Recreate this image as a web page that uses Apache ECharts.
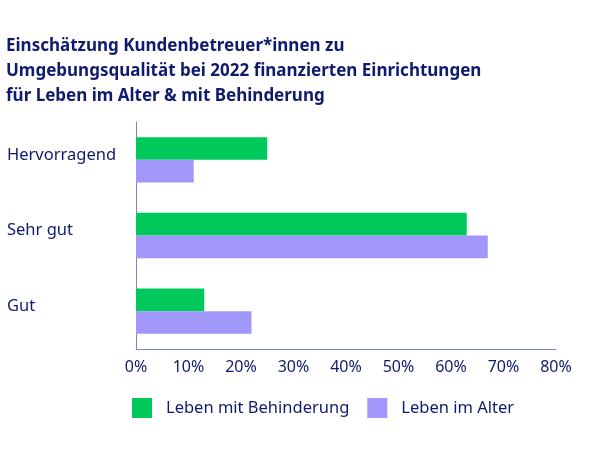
<!DOCTYPE html>
<html>
<head>
<meta charset="utf-8">
<script src="https://cdn.jsdelivr.net/npm/echarts@6/dist/echarts.min.js"></script>
<style>
  html, body { margin: 0; padding: 0; background: #fff; }
  #chart { width: 599px; height: 449px; }
</style>
</head>
<body>
<div id="chart"></div>
<script>
// values
const categories = ['Hervorragend', 'Sehr gut', 'Gut'];
const behinderung = [25, 63, 13];
const alter = [11, 67, 22];
const xTicks = [0, 10, 20, 30, 40, 50, 60, 70, 80];

const navy = '#101a6e';
const font = 'Noto Sans';

const myChart = echarts.init(document.getElementById('chart'));

const option = {
  animation: false,
  textStyle: { fontFamily: font, color: navy },
  title: {
    text: 'Einschätzung Kundenbetreuer*innen zu\nUmgebungsqualität bei 2022 finanzierten Einrichtungen\nfür Leben im Alter & mit Behinderung',
    left: 1,
    top: 29,
    textStyle: {
      fontFamily: font,
      fontSize: 17,
      fontWeight: 'bold',
      color: navy,
      lineHeight: 25
    }
  },
  legend: {
    top: 398,
    left: 132,
    itemWidth: 20,
    itemHeight: 20,
    itemGap: 18,
    padding: 0,
    icon: 'rect',
    textStyle: { fontSize: 16.5, color: navy, padding: [0, 0, 0, 9] },
    data: ['Leben mit Behinderung', 'Leben im Alter']
  },
  grid: {
    left: 136,
    right: 43,
    top: 122,
    bottom: 100,
    containLabel: false
  },
  xAxis: {
    type: 'value',
    min: 0,
    max: 80,
    interval: 10,
    axisLine: { show: true, lineStyle: { color: '#7d82c0', width: 1 } },
    axisTick: { show: false },
    splitLine: { show: false },
    axisLabel: {
      fontSize: 16,
      color: navy,
      margin: 10,
      formatter: v => (xTicks.includes(v) ? v + '%' : '')
    }
  },
  yAxis: {
    type: 'category',
    inverse: true,
    data: categories,
    axisLine: { show: true, lineStyle: { color: '#7d82c0', width: 1 } },
    axisTick: { show: false },
    axisLabel: {
      fontSize: 16.5,
      color: navy,
      align: 'left',
      verticalAlign: 'bottom',
      lineHeight: 10,
      margin: 129
    }
  },
  series: [
    {
      name: 'Leben mit Behinderung',
      type: 'bar',
      data: behinderung,
      barGap: '0%',
      barCategoryGap: '40%',
      itemStyle: { color: '#00c95c' }
    },
    {
      name: 'Leben im Alter',
      type: 'bar',
      data: alter,
      itemStyle: { color: '#a197fb' }
    }
  ]
};

myChart.setOption(option);
window.onresize = function () {
  myChart.resize();
};
</script>
</body>
</html>
